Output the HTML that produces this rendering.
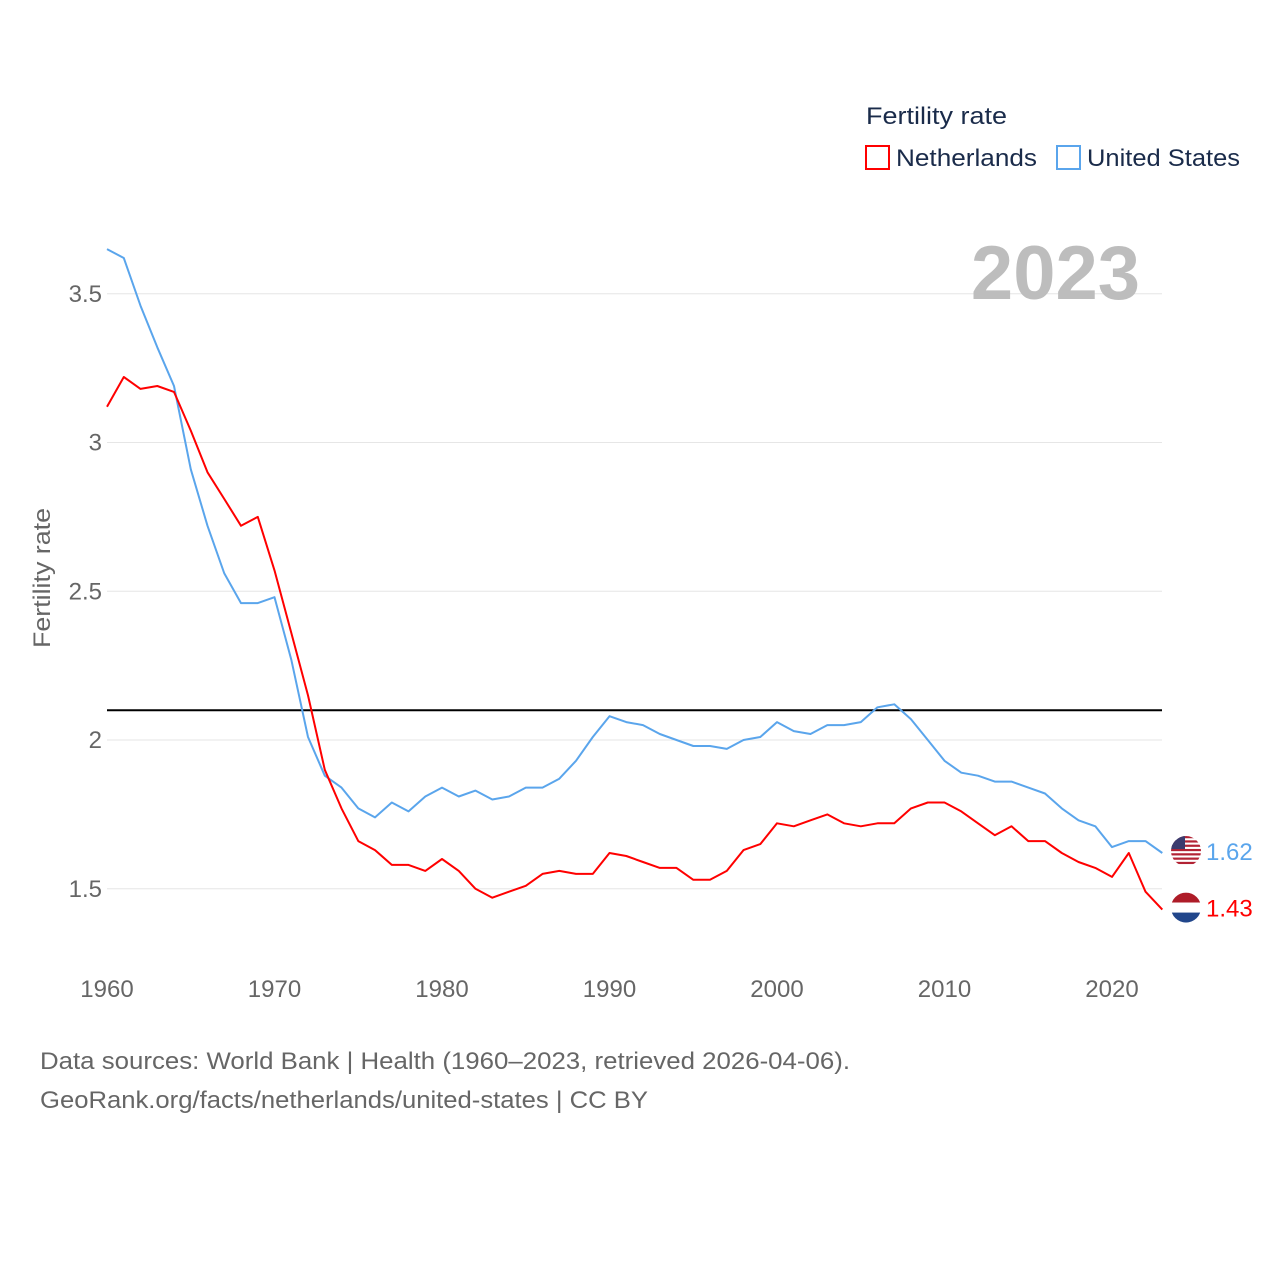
<!DOCTYPE html>
<html><head><meta charset="utf-8">
<style>
html,body{margin:0;padding:0;background:#fff;}
body{width:1280px;height:1280px;overflow:hidden;font-family:"Liberation Sans",sans-serif;}
</style></head>
<body>
<svg id="chart" width="1280" height="1280" xmlns="http://www.w3.org/2000/svg" font-family="Liberation Sans, sans-serif">
<g id="grid"></g>
<g id="axes"></g>
<text x="1140" y="299" text-anchor="end" font-size="76" font-weight="bold" fill="#bdbdbd">2023</text>
<text transform="translate(50,578) rotate(-90)" text-anchor="middle" font-size="24" fill="#666" textLength="140" lengthAdjust="spacingAndGlyphs">Fertility rate</text>
<g id="series"></g>
<g>
<text x="866" y="124" font-size="24" fill="#1a2b4a" textLength="141" lengthAdjust="spacingAndGlyphs">Fertility rate</text>
<rect x="866" y="146" width="23" height="23" fill="none" stroke="#f00" stroke-width="2"/>
<text x="896" y="166" font-size="24" fill="#1a2b4a" textLength="141" lengthAdjust="spacingAndGlyphs">Netherlands</text>
<rect x="1057" y="146" width="23" height="23" fill="none" stroke="#5aa5ec" stroke-width="2"/>
<text x="1087" y="166" font-size="24" fill="#1a2b4a" textLength="153" lengthAdjust="spacingAndGlyphs">United States</text>
</g>
<text x="40" y="1069" font-size="24" fill="#666" textLength="810" lengthAdjust="spacingAndGlyphs">Data sources: World Bank | Health (1960–2023, retrieved 2026-04-06).</text>
<text x="40" y="1108" font-size="24" fill="#666" textLength="608" lengthAdjust="spacingAndGlyphs">GeoRank.org/facts/netherlands/united-states | CC BY</text>
</svg>
<script>
const years = [];
for (let y = 1960; y <= 2023; y++) years.push(y);
const usValues = [3.65,3.62,3.46,3.32,3.19,2.91,2.72,2.56,2.46,2.46,2.48,2.27,2.01,1.88,1.84,1.77,1.74,1.79,1.76,1.81,1.84,1.81,1.83,1.80,1.81,1.84,1.84,1.87,1.93,2.01,2.08,2.06,2.05,2.02,2.00,1.98,1.98,1.97,2.00,2.01,2.06,2.03,2.02,2.05,2.05,2.06,2.11,2.12,2.07,2.00,1.93,1.89,1.88,1.86,1.86,1.84,1.82,1.77,1.73,1.71,1.64,1.66,1.66,1.62];
const nlValues = [3.12,3.22,3.18,3.19,3.17,3.04,2.90,2.81,2.72,2.75,2.57,2.36,2.15,1.90,1.77,1.66,1.63,1.58,1.58,1.56,1.60,1.56,1.50,1.47,1.49,1.51,1.55,1.56,1.55,1.55,1.62,1.61,1.59,1.57,1.57,1.53,1.53,1.56,1.63,1.65,1.72,1.71,1.73,1.75,1.72,1.71,1.72,1.72,1.77,1.79,1.79,1.76,1.72,1.68,1.71,1.66,1.66,1.62,1.59,1.57,1.54,1.62,1.49,1.43];
const yTicks = [1.5,2,2.5,3,3.5];
const yTickLabels = ["1.5","2","2.5","3","3.5"];
const xTicks = [1960,1970,1980,1990,2000,2010,2020];
const replacementRate = 2.1;

const NS = "http://www.w3.org/2000/svg";
const xS = v => 107 + (v - 1960) * (1005 / 60);
const yS = v => 740 - (v - 2) * 297.5;
function mk(tag, attrs, parent) {
  const e = document.createElementNS(NS, tag);
  for (const k in attrs) e.setAttribute(k, attrs[k]);
  parent.appendChild(e);
  return e;
}
const grid = document.getElementById('grid');
const axes = document.getElementById('axes');
const series = document.getElementById('series');

yTicks.forEach((t, i) => {
  const l = mk('line', {x1:107, x2:1162, y1:yS(t), y2:yS(t), stroke:'#e6e6e6', 'stroke-width':1}, grid);
  
  
  const tx = mk('text', {x:102, y:yS(t)+8, 'text-anchor':'end', 'font-size':24, fill:'#666'}, axes);
  tx.textContent = yTickLabels[i];
  
  
});
xTicks.forEach(t => {
  const tx = mk('text', {x:xS(t), y:997, 'text-anchor':'middle', 'font-size':24, fill:'#666'}, axes);
  tx.textContent = t;
  
  
});
const rl = mk('line', {x1:107, x2:1162, y1:yS(replacementRate), y2:yS(replacementRate), stroke:'#000', 'stroke-width':2}, series);



function drawLine(vals, color, name) {
  const d = vals.map((v, i) => (i ? 'L' : 'M') + xS(years[i]).toFixed(1) + ',' + yS(v).toFixed(1)).join(' ');
  const p = mk('path', {d:d, fill:'none', stroke:color, 'stroke-width':2, 'stroke-linejoin':'round'}, series);
  
  
  const last = vals[vals.length - 1];
  const cy = yS(last) - 2;
  const g = mk('g', {}, series);
  
  
  const cid = 'clip-' + name;
  const cp = mk('clipPath', {id:cid}, g);
  mk('circle', {cx:1186, cy:cy, r:15}, cp);
  if (name === 'netherlands') {
    mk('rect', {x:1171, y:cy-15, width:30, height:10, fill:'#ae1c28', 'clip-path':'url(#'+cid+')'}, g);
    mk('rect', {x:1171, y:cy-5, width:30, height:10, fill:'#fff', 'clip-path':'url(#'+cid+')'}, g);
    mk('rect', {x:1171, y:cy+5, width:30, height:10, fill:'#21468b', 'clip-path':'url(#'+cid+')'}, g);
  } else {
    for (let i = 0; i < 7; i++) mk('rect', {x:1171, y:cy-15+i*4.3, width:30, height:2.2, fill:'#b22234', 'clip-path':'url(#'+cid+')'}, g);
    mk('rect', {x:1171, y:cy-15, width:14, height:13, fill:'#3c3b6e', 'clip-path':'url(#'+cid+')'}, g);
  }
  const t = mk('text', {x:1206, y:cy+9, 'font-size':24, fill:color}, series);
  t.textContent = last.toFixed(2);
  
  
}
drawLine(usValues, '#5aa5ec', 'united-states');
drawLine(nlValues, '#f00', 'netherlands');
</script>
</body></html>
